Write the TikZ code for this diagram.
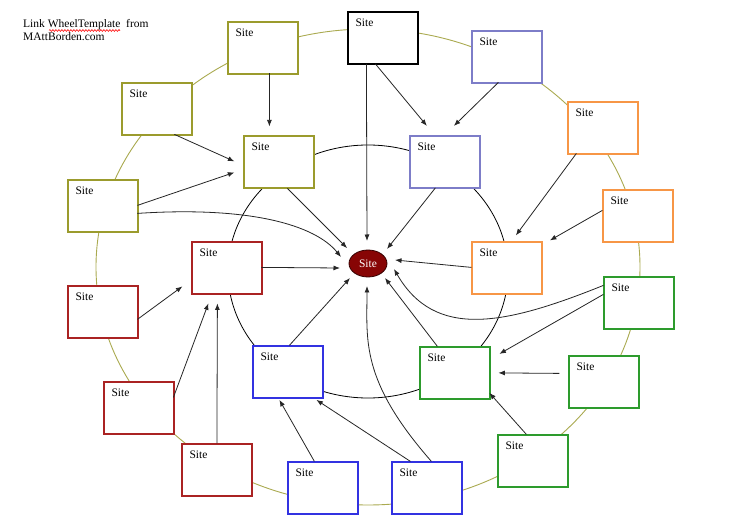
\documentclass[tikz,border=0pt]{standalone}
\usepackage{fontspec}
\setmainfont{Liberation Serif}
\usetikzlibrary{arrows.meta,calc,shapes.geometric,decorations.pathmorphing}
\definecolor{olivec}{RGB}{155,155,45}
\definecolor{ringc}{RGB}{170,170,80}
\definecolor{lavc}{RGB}{125,125,200}
\definecolor{orangec}{RGB}{247,150,70}
\definecolor{greenc}{RGB}{45,155,45}
\definecolor{bluec}{RGB}{50,50,225}
\definecolor{redc}{RGB}{170,35,35}
\definecolor{hubc}{RGB}{135,5,5}
\newcommand{\sitefont}{\fontsize{11.5}{13}\selectfont}
\tikzset{
  sitebox/.style={draw=#1, line width=1.2pt, fill=white, minimum width=70pt, minimum height=52pt, inner sep=0pt,
    label={[anchor=north west, inner sep=0pt, xshift=8pt, yshift=-7.5pt, font=\sitefont]north west:Site}},
  arr/.style={draw=black!85, line width=0.8pt, -{Latex[length=6.5pt,width=5pt]}},
  hdr/.style={anchor=base west, inner sep=0pt, font=\sitefont}
}
\begin{document}
\begin{tikzpicture}[x=1pt,y=-1pt]
\fill[white] (0,0) rectangle (740,532);
\useasboundingbox (0,0) rectangle (740,532);
% header
\node[hdr] (h1) at (23,28) {Link WheelTemplate\ \ from};
\node[hdr] (h2) at (23,41) {MAttBorden.com};
\draw[red, line width=0.6pt, decorate, decoration={snake, amplitude=0.9pt, segment length=3pt}] (49,30.5) -- (120,30.5);
% rings
\draw[ringc, line width=0.9pt] (368,267) ellipse [x radius=272pt, y radius=238pt];
\draw[black, line width=0.8pt] (368,271.5) ellipse [x radius=140pt, y radius=126.5pt];
% outer boxes
\node[sitebox=black]   (b1)  at (383,38) {};
\node[sitebox=lavc]    (b2)  at (507,57) {};
\node[sitebox=orangec] (b3)  at (603,128) {};
\node[sitebox=orangec] (b4)  at (638,216) {};
\node[sitebox=greenc]  (b5)  at (639,303) {};
\node[sitebox=greenc]  (b6)  at (604,382) {};
\node[sitebox=greenc]  (b7)  at (533,461) {};
\node[sitebox=bluec]   (b8)  at (427,488) {};
\node[sitebox=bluec]   (b9)  at (323,488) {};
\node[sitebox=redc]    (b10) at (217,470) {};
\node[sitebox=redc]    (b11) at (139,408) {};
\node[sitebox=redc]    (b12) at (103,312) {};
\node[sitebox=olivec]  (b13) at (103,206) {};
\node[sitebox=olivec]  (b14) at (157,109) {};
\node[sitebox=olivec]  (b15) at (263,48) {};
% inner boxes
\node[sitebox=olivec]  (b16) at (279,162) {};
\node[sitebox=lavc]    (b17) at (445,162) {};
\node[sitebox=orangec] (b18) at (507,268) {};
\node[sitebox=greenc]  (b19) at (455,373) {};
\node[sitebox=bluec]   (b20) at (288,372) {};
\node[sitebox=redc]    (b21) at (227,268) {};
% hub
\node[ellipse, fill=hubc, draw=black!60!hubc, line width=0.8pt, minimum width=38pt, minimum height=27pt, inner sep=0pt, text=white, font=\sitefont] (c) at (368,263.5) {Site};
% arrows
\draw[arr] ($(b1.north west)+(19,52.5)$) -- ($(c.center)+(-1,-22.5)$);
\draw[arr] ($(b1.north west)+(28,52.5)$) -- ($(b17.north west)+(17.5,-9.5)$);
\draw[arr] ($(b2.north west)+(27,52)$) -- ($(b17.north west)+(44.5,-9.5)$);
\draw[arr] ($(b15.north west)+(42,52)$) -- ($(b16.north west)+(26,-9)$);
\draw[arr] ($(b14.north west)+(53,52)$) -- ($(b16.north west)+(-9,26)$);
\draw[arr] ($(b13.north west)+(70,26)$) -- ($(b16.north west)+(-9,37)$);
\draw[arr] ($(b13.north west)+(70,34)$) .. controls (250,206) and (315,225) .. ($(c.center)+(-27,-6.5)$);
\draw[arr] ($(b16.north west)+(44,53)$) -- ($(c.center)+(-21,-15.5)$);
\draw[arr] ($(b17.north west)+(26,52.5)$) -- ($(c.center)+(19,-14.5)$);
\draw[arr] ($(b3.north west)+(9,52)$) -- ($(b18.north west)+(44.5,-6)$);
\draw[arr] ($(b4.north west)+(0,21)$) -- ($(b18.north west)+(78.5,-1)$);
\draw[arr] ($(b18.north west)+(0,26)$) -- ($(c.center)+(27,-3.5)$);
\draw[arr] ($(b5.north west)+(0,9)$) .. controls (505,325) and (435,340) .. ($(c.center)+(26,5.5)$);
\draw[arr] ($(b5.north west)+(0,18)$) -- ($(b19.north west)+(80,7.5)$);
\draw[arr] ($(b6.north west)+(-9,18)$) -- ($(b19.north west)+(79,26.5)$);
\draw[arr] ($(b7.north west)+(29,0)$) -- ($(b19.north west)+(70,46.5)$);
\draw[arr] ($(b19.north west)+(18,0)$) -- ($(c.center)+(17,14.5)$);
\draw[arr] ($(b8.north west)+(19,0)$) -- ($(b20.north west)+(64,54.5)$);
\draw[arr] ($(b8.north west)+(40,0)$) .. controls (360,380) and (367,340) .. ($(c.center)+(-1,22.5)$);
\draw[arr] ($(b9.north west)+(27,0)$) -- ($(b20.north west)+(27,54.5)$);
\draw[arr] ($(b20.north west)+(37,0)$) -- ($(c.center)+(-18,14.5)$);
\draw[arr] ($(b10.north west)+(35.5,0)$) -- ($(b21.north west)+(26,62)$);
\draw[arr] ($(b11.north west)+(70,16)$) -- ($(b21.north west)+(17,62)$);
\draw[arr] ($(b12.north west)+(70,34)$) -- ($(b21.north west)+(-9,45)$);
\draw[arr] ($(b21.north west)+(70,26)$) -- ($(c.center)+(-28,4.5)$);
\end{tikzpicture}
\end{document}
